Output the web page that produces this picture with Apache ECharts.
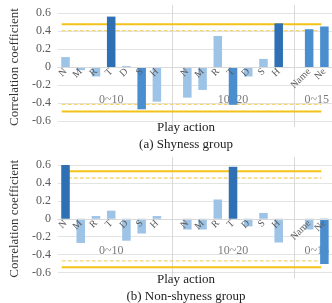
<!DOCTYPE html>
<html>
<head>
<meta charset="utf-8">
<script src="https://cdn.jsdelivr.net/npm/echarts@6/dist/echarts.min.js"></script>
<style>
  html, body { margin: 0; padding: 0; background: #fff; }
  #chart { width: 332px; height: 303px; }
</style>
</head>
<body>
<div id="chart"></div>
<script>
// category groups along the x axis
const groupNames = ['0~10', '10~20', '0~15']
const groupItems = [
  ['N', 'M', 'R', 'T', 'D', 'S', 'H'],
  ['N', 'M', 'R', 'T', 'D', 'S', 'H'],
  ['Name', 'Ne']
]

// (a) shyness group
const shyValues = [
  [0.11, -0.035, -0.105, 0.56, 0.01, -0.47, -0.385],
  [-0.34, -0.255, 0.345, -0.42, -0.105, 0.09, 0.485],
  [0.42, 0.45]
]
const shySolid = [0.475, -0.495]
const shyDashed = [0.405, -0.415]

// (b) non-shyness group
const nonShyValues = [
  [0.6, -0.27, 0.03, 0.09, -0.245, -0.165, 0.03],
  [-0.12, -0.12, 0.215, 0.58, -0.085, 0.065, -0.265],
  [-0.12, -0.505]
]
const nonShySolid = [0.53, -0.54]
const nonShyDashed = [0.455, -0.47]

const yTicks = [-0.6, -0.4, -0.2, 0, 0.2, 0.4, 0.6]

const FONT = 'Liberation Serif'
const DARK = '#2E70B3'
const MID = '#4A8ED0'
const LIGHT = '#9DC3E6'

// flatten groups, with an empty slot between groups
const categories = []
const groupCenters = []
const sepIndex = []
groupItems.forEach((items, g) => {
  if (g > 0) { sepIndex.push(categories.length); categories.push('') }
  groupCenters.push(categories.length + (items.length - 1) / 2)
  items.forEach(n => categories.push(n))
})
const flatten = (vals) => {
  const out = []
  vals.forEach((v, g) => {
    if (g > 0) out.push('-')
    v.forEach(x => out.push(x))
  })
  return out
}

const colorFor = (v, solid, dashed) => {
  if (v >= solid[0] || v <= solid[1]) return DARK
  if (v >= dashed[0] || v <= dashed[1]) return MID
  return LIGHT
}

const panels = [
  { top: 13, height: 108, values: shyValues, solid: shySolid, dashed: shyDashed, caption: '(a) Shyness group', capY: 128 },
  { top: 165, height: 107.5, values: nonShyValues, solid: nonShySolid, dashed: nonShyDashed, caption: '(b) Non-shyness group', capY: 280 }
]

const GRID_LEFT = 45
const GRID_WIDTH = 292
const xMin = -0.5
const xMax = categories.length - 0.5
const lineFrom = -0.25
const lineTo = 16.8

const grid = [], xAxis = [], yAxis = [], series = [], texts = []

panels.forEach((p, k) => {
  grid.push({ left: GRID_LEFT, top: p.top, width: GRID_WIDTH, height: p.height })
  // category axis lifted from the bottom edge up to the zero line
  xAxis.push({
    type: 'category', gridIndex: k, data: categories, z: 10,
    offset: -p.height / 2,
    axisTick: { show: false },
    axisLine: { onZero: false, lineStyle: { color: '#D9D9D9' } },
    axisLabel: { interval: 0, rotate: 45, margin: 3, fontFamily: FONT, fontSize: 10, color: '#595959' },
    splitLine: { show: false }
  })
  xAxis.push({ type: 'value', gridIndex: k, min: xMin, max: xMax, show: false, axisLine: { onZero: false } })
  yAxis.push({
    type: 'value', gridIndex: k, min: yTicks[0], max: yTicks[yTicks.length - 1], interval: 0.2,
    name: 'Correlation coefficient', nameLocation: 'middle', nameGap: 35,
    nameTextStyle: { fontFamily: FONT, fontSize: 13, color: '#333' },
    axisLine: { show: false, onZero: false }, axisTick: { show: false },
    axisLabel: { fontFamily: FONT, fontSize: 12, color: '#595959', margin: 7,
      formatter: v => (Math.abs(v) < 1e-9 ? '0' : v.toFixed(1)) },
    splitLine: { lineStyle: { color: '#E3E3E3' } }
  })

  const flat = flatten(p.values)
  series.push({
    type: 'bar', xAxisIndex: k * 2, yAxisIndex: k, z: 4,
    barWidth: '56%',
    data: flat.map(v => v === '-' ? '-' : { value: v, itemStyle: { color: colorFor(v, p.solid, p.dashed) } })
  })

  p.solid.forEach(t => series.push({
    type: 'line', xAxisIndex: k * 2 + 1, yAxisIndex: k, z: 3, symbol: 'none', silent: true,
    lineStyle: { color: '#F2C21B', width: 2 },
    data: [[lineFrom, t], [lineTo, t]]
  }))
  p.dashed.forEach(t => series.push({
    type: 'line', xAxisIndex: k * 2 + 1, yAxisIndex: k, z: 3, symbol: 'none', silent: true,
    lineStyle: { color: '#F8D573', width: 1.3, type: [4, 2] },
    data: [[lineFrom, t], [lineTo, t]]
  }))

  series.push({
    type: 'scatter', xAxisIndex: k * 2 + 1, yAxisIndex: k, z: 1, symbolSize: 0, silent: true,
    label: { show: true, position: 'inside', formatter: '{b}', fontFamily: FONT, fontSize: 12, color: '#595959' },
    data: groupNames.map((n, g) => ({ name: n, value: [groupCenters[g], -0.36] }))
  })

  texts.push({ type: 'text', x: 186, y: p.capY, style: { text: 'Play action', font: '13px "' + FONT + '"', fill: '#222', textAlign: 'center', textVerticalAlign: 'middle' } })
  texts.push({ type: 'text', x: 186, y: p.capY + 17, style: { text: p.caption, font: '13px "' + FONT + '"', fill: '#222', textAlign: 'center', textVerticalAlign: 'middle' } })
})

const chart = echarts.init(document.getElementById('chart'), null, { renderer: 'canvas' })
chart.setOption({ animation: false, grid, xAxis, yAxis, series })

// group separators, placed through the hidden value axes
const seps = []
panels.forEach((p, k) => {
  sepIndex.forEach(i => {
    const x = Math.round(chart.convertToPixel({ xAxisIndex: k * 2 + 1 }, i)) + 0.5
    seps.push({ type: 'line', z: 0, shape: { x1: x, y1: p.top - 8, x2: x, y2: p.top + p.height + 6 }, style: { stroke: '#D9D9D9', lineWidth: 1 } })
  })
})
chart.setOption({ graphic: seps.concat(texts) })
</script>
</body>
</html>
